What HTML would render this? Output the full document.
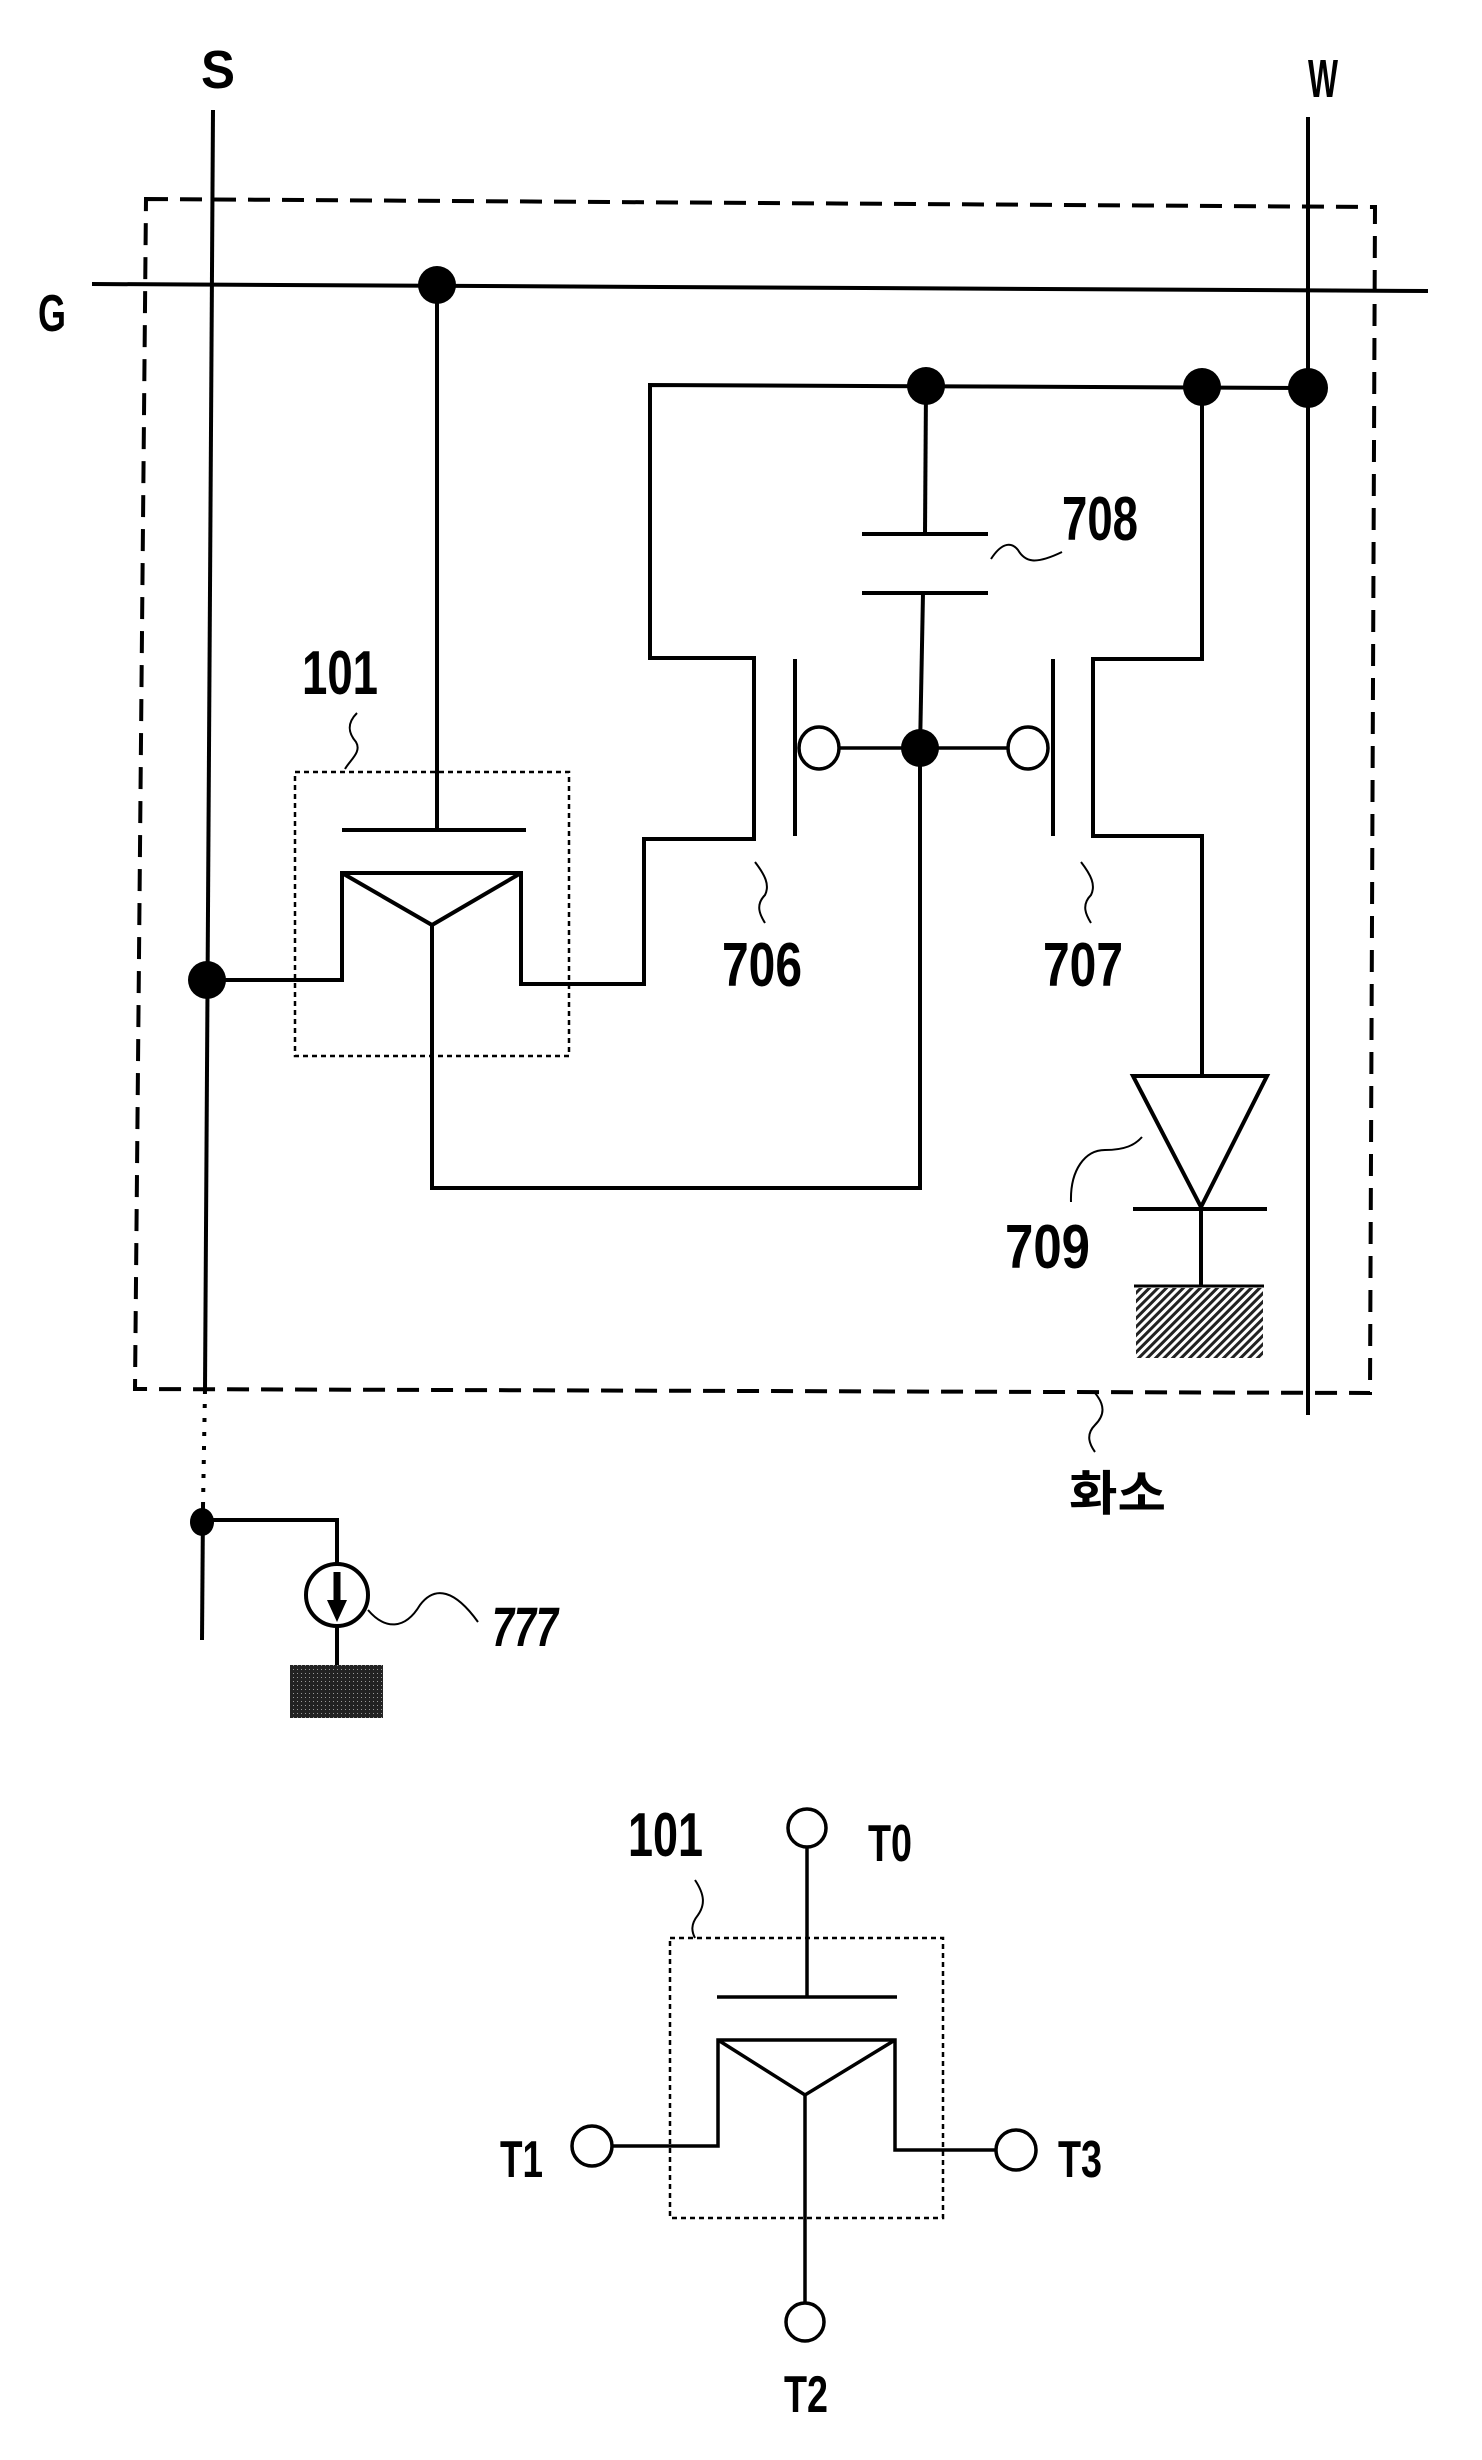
<!DOCTYPE html>
<html><head><meta charset="utf-8"><style>
html,body{margin:0;padding:0;background:#fff;}
svg{display:block;}
text{font-family:"Liberation Sans","Noto Sans CJK KR",sans-serif;font-weight:bold;fill:#000;}
</style></head><body>
<svg width="1482" height="2460" viewBox="0 0 1482 2460" xmlns="http://www.w3.org/2000/svg">
<defs>
<pattern id="hatch" width="6" height="6" patternUnits="userSpaceOnUse" patternTransform="rotate(45)">
<rect width="6" height="6" fill="#fff"/><rect width="3" height="6" fill="#222"/>
</pattern>
<pattern id="stip" width="4" height="4" patternUnits="userSpaceOnUse">
<rect width="4" height="4" fill="#222"/><rect x="1" y="1" width="1" height="1" fill="#999"/>
</pattern>
</defs>
<g stroke="#000" stroke-width="4" fill="none">
<polygon points="146,199 1375,207 1370,1393 135,1389" stroke-dasharray="22,12" stroke-width="4"/>
<line x1="92" y1="284" x2="1428" y2="291"/>
<line x1="213" y1="110" x2="205" y2="1390"/>
<line x1="205" y1="1390" x2="203" y2="1506" stroke-dasharray="4,10"/>
<line x1="203" y1="1506" x2="202" y2="1640"/>
<line x1="1308" y1="117" x2="1308" y2="1415"/>
<line x1="437" y1="285" x2="437" y2="830"/>
<line x1="342" y1="830" x2="526" y2="830"/>
<rect x="295" y="772" width="274" height="284" stroke-width="2.5" stroke-dasharray="5,4"/>
<polyline points="207,980 342,980 342,873 521,873 521,984 644,984 644,839 754,839 754,658 650,658 650,385 1308,388"/>
<polyline points="342,873 432,925 521,873"/>
<polyline points="432,925 432,1188 920,1188 920,750"/>
<line x1="795" y1="659" x2="795" y2="836"/>
<ellipse cx="819" cy="748" rx="20" ry="21" stroke-width="3.5"/>
<line x1="839" y1="748" x2="1008" y2="748" stroke-width="3.5"/>
<ellipse cx="1028" cy="748" rx="20" ry="21" stroke-width="3.5"/>
<line x1="1053" y1="659" x2="1053" y2="836"/>
<polyline points="1202,388 1202,659 1093,659 1093,836 1202,836 1202,1076"/>
<line x1="926" y1="387" x2="925" y2="534"/>
<line x1="862" y1="534" x2="988" y2="534"/>
<line x1="862" y1="593" x2="988" y2="593"/>
<line x1="923" y1="593" x2="920" y2="750"/>
<polygon points="1133,1076 1267,1076 1201,1207"/>
<line x1="1133" y1="1209" x2="1267" y2="1209"/>
<line x1="1201" y1="1209" x2="1201" y2="1286"/>
<line x1="1134" y1="1286" x2="1264" y2="1286" stroke-width="3"/>
</g>
<rect x="1136" y="1288" width="127" height="70" fill="url(#hatch)"/>
<g fill="#000">
<circle cx="437" cy="285" r="19"/>
<circle cx="926" cy="386" r="19"/>
<circle cx="1202" cy="387" r="19"/>
<circle cx="1308" cy="388" r="20"/>
<circle cx="920" cy="748" r="19"/>
<circle cx="207" cy="980" r="19"/>
<ellipse cx="202" cy="1522" rx="12" ry="14"/>
</g>
<g stroke="#000" stroke-width="2" fill="none">
<path d="M991,559 C1000,545 1010,540 1018,550 C1025,562 1035,565 1062,552"/>
<path d="M357,713 C345,725 350,735 356,742 C362,752 350,760 345,769"/>
<path d="M755,862 C765,875 770,885 765,895 C755,905 760,915 765,923"/>
<path d="M1081,862 C1091,875 1096,885 1091,895 C1081,905 1086,915 1091,923"/>
<path d="M1071,1202 C1070,1170 1085,1150 1105,1150 C1125,1150 1135,1145 1142,1137"/>
<path d="M1095,1393 C1105,1405 1105,1415 1095,1425 C1085,1435 1090,1445 1095,1452"/>
<path d="M368,1610 C385,1630 405,1630 420,1605 C435,1585 455,1590 478,1622"/>
<path d="M695,1880 C705,1895 705,1905 698,1915 C690,1925 692,1932 695,1938"/>
</g>
<g stroke="#000" stroke-width="4" fill="none">
<polyline points="202,1520 337,1520 337,1563"/>
<circle cx="337" cy="1595" r="31"/>
<line x1="337" y1="1626" x2="337" y2="1665"/>
</g>
<line x1="337" y1="1572" x2="337" y2="1605" stroke="#000" stroke-width="7"/>
<polygon points="327,1600 347,1600 337,1622" fill="#000"/>
<rect x="290" y="1665" width="93" height="53" fill="url(#stip)"/>
<g stroke="#000" stroke-width="3.5" fill="none">
<ellipse cx="807" cy="1828" rx="19" ry="19"/>
<line x1="807" y1="1847" x2="807" y2="1997"/>
<line x1="717" y1="1997" x2="897" y2="1997"/>
<rect x="670" y="1938" width="273" height="280" stroke-width="2.5" stroke-dasharray="5,4"/>
<polyline points="612,2146 718,2146 718,2040 895,2040 895,2150 997,2150"/>
<polyline points="718,2040 805,2095 895,2040"/>
<line x1="805" y1="2095" x2="805" y2="2303"/>
<ellipse cx="592" cy="2146" rx="20" ry="20"/>
<ellipse cx="1016" cy="2150" rx="20" ry="20"/>
<ellipse cx="805" cy="2322" rx="19" ry="19"/>
</g>
<g font-size="62">
<text x="201" y="88" font-size="54" textLength="34" lengthAdjust="spacingAndGlyphs">S</text>
<text x="1308" y="97" font-size="54" textLength="30" lengthAdjust="spacingAndGlyphs">W</text>
<text x="38" y="331" font-size="52" textLength="28" lengthAdjust="spacingAndGlyphs">G</text>
<text x="1062" y="540" textLength="76" lengthAdjust="spacingAndGlyphs">708</text>
<text x="302" y="694" textLength="76" lengthAdjust="spacingAndGlyphs">101</text>
<text x="722" y="986" textLength="80" lengthAdjust="spacingAndGlyphs">706</text>
<text x="1043" y="986" textLength="80" lengthAdjust="spacingAndGlyphs">707</text>
<text x="1005" y="1268" textLength="85" lengthAdjust="spacingAndGlyphs">709</text>
<text x="492" y="1646" font-size="56" textLength="66" lengthAdjust="spacingAndGlyphs" font-style="italic">777</text>
<text x="628" y="1856" textLength="75" lengthAdjust="spacingAndGlyphs">101</text>
<text x="868" y="1861" font-size="52" textLength="44" lengthAdjust="spacingAndGlyphs">T0</text>
<text x="500" y="2177" font-size="52" textLength="43" lengthAdjust="spacingAndGlyphs">T1</text>
<text x="1058" y="2177" font-size="52" textLength="44" lengthAdjust="spacingAndGlyphs">T3</text>
<text x="784" y="2412" font-size="52" textLength="44" lengthAdjust="spacingAndGlyphs">T2</text>
</g>
<text x="1069" y="1510" font-size="48" font-weight="normal" textLength="97" lengthAdjust="spacingAndGlyphs" style="font-family:'Noto Sans CJK KR',sans-serif">화소</text>
</svg>
</body></html>
